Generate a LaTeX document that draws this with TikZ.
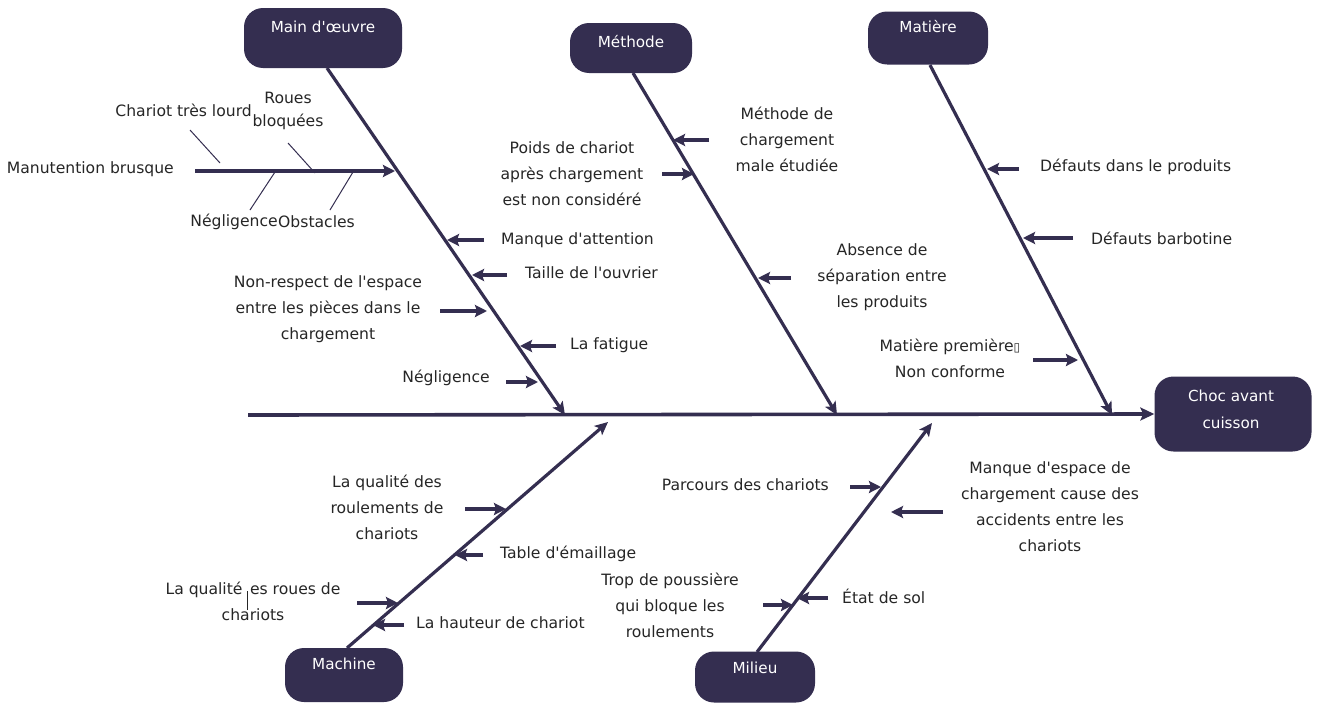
\documentclass[tikz,border=0pt]{standalone}
\usepackage{fontspec}
\setmainfont{DejaVu Sans}[Ligatures=TeXOff]
\usetikzlibrary{arrows.meta}
\definecolor{ink}{RGB}{52,46,80}
\definecolor{txt}{RGB}{38,38,38}
\begin{document}
\begin{tikzpicture}[x=1pt,y=-1pt,
  catbox/.style={fill=ink,rounded corners=19pt,inner sep=0pt},
  cattext/.style={text=white,font=\fontsize{15.2}{27}\selectfont,align=center,inner sep=0pt},
  cause/.style={text=txt,font=\fontsize{15.6}{26}\selectfont,align=center,inner sep=0pt},
  spine/.style={draw=ink,line width=3.6pt,-{Stealth[length=14pt,width=13pt,inset=3pt]}},
  bone/.style={draw=ink,line width=3.2pt,-{Stealth[length=13pt,width=12pt,inset=3pt]}},
  sub/.style={draw=ink,line width=3.6pt,-{Stealth[length=12pt,width=12pt,inset=2pt]}},
  tick/.style={draw=ink,line width=1pt}]
\useasboundingbox (0,0) rectangle (1319,704);
\fill[white] (0,0) rectangle (1319,704);

% ---------- category boxes ----------
\node[catbox,minimum width=158pt,minimum height=60pt] (mo)  at (323,38)  {};
\node[cattext] (moT) at (323,27) {Main d'œuvre};
\node[catbox,minimum width=122pt,minimum height=50pt] (me)  at (631,48)  {};
\node[cattext] (meT) at (631,42) {Méthode};
\node[catbox,minimum width=120pt,minimum height=53pt] (ma)  at (928,38)  {};
\node[cattext] (maT) at (928,27) {Matière};
\node[catbox,minimum width=118pt,minimum height=54pt] (mc)  at (344,675) {};
\node[cattext] (mcT) at (344,664) {Machine};
\node[catbox,minimum width=120pt,minimum height=51pt] (mi)  at (755,677) {};
\node[cattext] (miT) at (755,668) {Milieu};
\node[catbox,minimum width=157pt,minimum height=75pt] (ef)  at (1233,414) {};
\node[cattext] (efT) at (1231,409) {Choc avant\\cuisson};

% ---------- spine and main bones ----------
\coordinate (sp0) at (248,415);
\coordinate (mo0) at (327,68);   \coordinate (mo1) at (565,415);
\coordinate (me0) at (633,73);   \coordinate (me1) at (837,415);
\coordinate (ma0) at (930,65);   \coordinate (ma1) at (1112,415);
\coordinate (mc0) at (347,648);  \coordinate (mc1) at (608,422);
\coordinate (mi0) at (757,652);  \coordinate (mi1) at (932,423);

\draw[spine] (sp0) -- (ef.west);
\draw[bone] (mo0) -- (mo1);
\draw[bone] (me0) -- (me1);
\draw[bone] (ma0) -- (ma1);
\draw[bone] (mc0) -- (mc1);
\draw[bone] (mi0) -- (mi1);

% ---------- Main d'oeuvre ----------
\coordinate (a1) at (195,171); \coordinate (b1) at (395,171);
\draw[sub] (a1) -- (b1);
\node[cause,anchor=east] (c1) at (174,169) {Manutention brusque};
\coordinate (t1a) at (190,130); \coordinate (t1b) at (220,163);
\coordinate (t2a) at (288,143); \coordinate (t2b) at (315,173);
\coordinate (t3a) at (275,172); \coordinate (t3b) at (250,210);
\coordinate (t4a) at (353,172); \coordinate (t4b) at (330,210);
\draw[tick] (t1a) -- (t1b);
\draw[tick] (t2a) -- (t2b);
\draw[tick] (t3a) -- (t3b);
\draw[tick] (t4a) -- (t4b);
\node[cause,anchor=east] (c2) at (252,110) {Chariot très lourd};
\node[cause,font=\fontsize{15.6}{23}\selectfont] (c3) at (288,111) {Roues\\bloquées};
\node[cause,anchor=east] (c4) at (278,222) {Négligence};
\node[cause,anchor=west] (c5) at (278,222) {Obstacles};

\coordinate (a2) at (484,240); \coordinate (b2) at (447,240);
\draw[sub] (a2) -- (b2);
\node[cause,anchor=west] (c6) at (501,240) {Manque d'attention};
\coordinate (a3) at (507,275); \coordinate (b3) at (472,275);
\draw[sub] (a3) -- (b3);
\node[cause,anchor=west] (c7) at (525,273) {Taille de l'ouvrier};
\coordinate (a4) at (440,311); \coordinate (b4) at (487,311);
\draw[sub] (a4) -- (b4);
\node[cause] (c8) at (328,309) {Non-respect de l'espace\\entre les pièces dans le\\chargement};
\coordinate (a5) at (556,346); \coordinate (b5) at (520,346);
\draw[sub] (a5) -- (b5);
\node[cause,anchor=west] (c9) at (570,345) {La fatigue};
\coordinate (a6) at (506,382); \coordinate (b6) at (538,382);
\draw[sub] (a6) -- (b6);
\node[cause,anchor=east] (c10) at (490,378) {Négligence};

% ---------- Méthode ----------
\coordinate (a7) at (709,140); \coordinate (b7) at (673,140);
\draw[sub] (a7) -- (b7);
\node[cause] (c11) at (787,139) {Méthode de\\chargement\\male étudiée};
\coordinate (a8) at (662,174); \coordinate (b8) at (694,174);
\draw[sub] (a8) -- (b8);
\node[cause] (c12) at (572,174) {Poids de chariot\\après chargement\\est non considéré};
\coordinate (a9) at (791,278); \coordinate (b9) at (758,278);
\draw[sub] (a9) -- (b9);
\node[cause] (c13) at (882,277) {Absence de\\séparation entre\\les produits};

% ---------- Matière ----------
\coordinate (a10) at (1019,169); \coordinate (b10) at (987,169);
\draw[sub] (a10) -- (b10);
\node[cause,anchor=west] (c14) at (1040,167) {Défauts dans le produits};
\coordinate (a11) at (1073,238); \coordinate (b11) at (1023,238);
\draw[sub] (a11) -- (b11);
\node[cause,anchor=west] (c15) at (1091,238) {Défauts barbotine};
\coordinate (a12) at (1033,360); \coordinate (b12) at (1078,360);
\draw[sub] (a12) -- (b12);
\node[cause] (c16) at (950,358) {Matière première\raisebox{-0.5pt}{\fontsize{12}{12}\selectfont ▯}\\Non conforme};

% ---------- Machine ----------
\coordinate (a13) at (465,509); \coordinate (b13) at (506,509);
\draw[sub] (a13) -- (b13);
\node[cause] (c17) at (387,507) {La qualité des\\roulements de\\chariots};
\coordinate (a14) at (483,555); \coordinate (b14) at (455,555);
\draw[sub] (a14) -- (b14);
\node[cause,anchor=west] (c18) at (500,554) {Table d'émaillage};
\coordinate (a15) at (357,603); \coordinate (b15) at (398,603);
\draw[sub] (a15) -- (b15);
\node[cause] (c19) at (253,601) {La qualité \makebox[0pt]{\smash{\rule[-16pt]{0.9pt}{19pt}}}\,es roues de\\chariots};
\coordinate (a16) at (404,625); \coordinate (b16) at (373,625);
\draw[sub] (a16) -- (b16);
\node[cause,anchor=west] (c20) at (416,623) {La hauteur de chariot};

% ---------- Milieu ----------
\coordinate (a17) at (850,487); \coordinate (b17) at (881,487);
\draw[sub] (a17) -- (b17);
\node[cause,anchor=east] (c21) at (829,485) {Parcours des chariots};
\coordinate (a18) at (943,512); \coordinate (b18) at (891,512);
\draw[sub] (a18) -- (b18);
\node[cause] (c22) at (1050,507) {Manque d'espace de\\chargement cause des\\accidents entre les\\chariots};
\coordinate (a19) at (763,605); \coordinate (b19) at (793,605);
\draw[sub] (a19) -- (b19);
\node[cause] (c23) at (670,605) {Trop de poussière\\qui bloque les\\roulements};
\coordinate (a20) at (828,598); \coordinate (b20) at (797,598);
\draw[sub] (a20) -- (b20);
\node[cause,anchor=west] (c24) at (842,596) {État de sol};
\end{tikzpicture}
\end{document}
